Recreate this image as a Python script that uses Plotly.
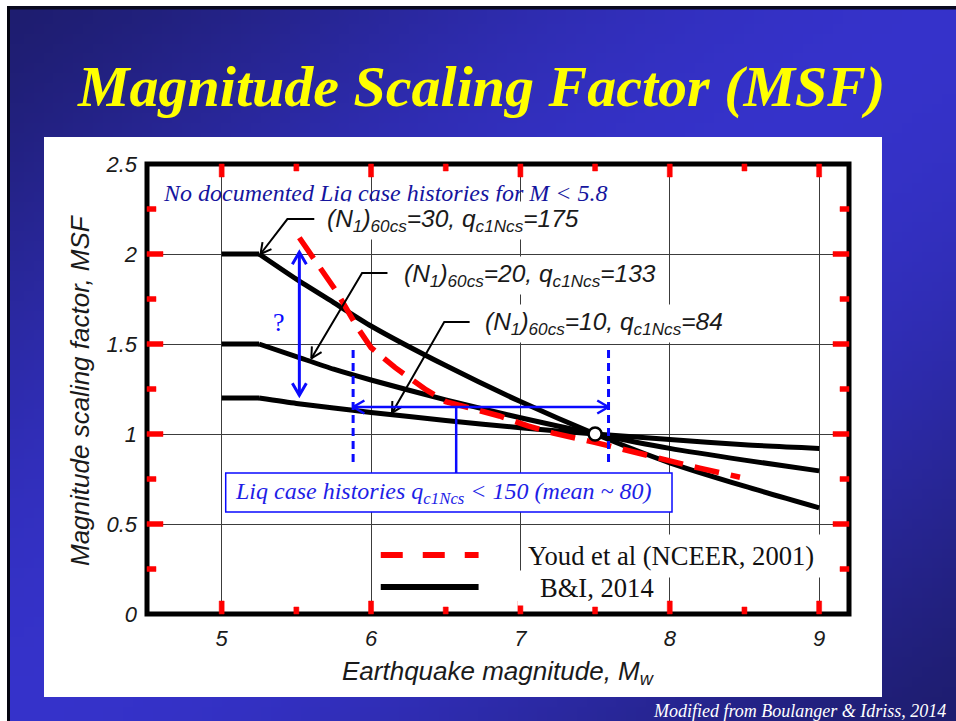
import base64
import math
import struct
import zlib

import plotly.graph_objects as go

# ---------------------------------------------------------------- data
magnitudes = [5.0, 5.25, 5.5, 5.75, 6.0, 6.5, 7.0, 7.5, 8.0, 8.5, 9.0]
msf_n30 = [2.00, 2.00, 1.86, 1.73, 1.60, 1.38, 1.18, 1.00, 0.84, 0.71, 0.59]
msf_n20 = [1.50, 1.50, 1.43, 1.36, 1.30, 1.19, 1.09, 1.00, 0.92, 0.855, 0.795]
msf_n10 = [1.20, 1.20, 1.17, 1.145, 1.12, 1.075, 1.035, 1.00, 0.97, 0.94, 0.92]

youd_m = [5.52, 5.77, 5.91, 6.0, 6.16, 6.37, 6.5, 6.65, 6.86, 7.05, 7.22, 7.49, 7.75, 8.0, 8.2, 8.47]
youd_msf = [2.09, 1.79, 1.59, 1.48, 1.37, 1.245, 1.18, 1.145, 1.10, 1.045, 1.005, 0.955, 0.90, 0.85, 0.81, 0.76]

reference_point = (7.5, 1.0)

x_ticks = [5, 6, 7, 8, 9]
x_ticktext = ["5", "6", "7", "8", "9"]
x_minor = [5.5, 6.5, 7.5, 8.5]
y_ticks = [0, 0.5, 1, 1.5, 2, 2.5]
y_ticktext = ["0", "0.5", "1", "1.5", "2", "2.5"]
y_minor = [0.25, 0.75, 1.25, 1.75, 2.25]

curve_labels = [
    "(N<sub>1</sub>)<sub>60cs</sub>=30, q<sub>c1Ncs</sub>=175",
    "(N<sub>1</sub>)<sub>60cs</sub>=20, q<sub>c1Ncs</sub>=133",
    "(N<sub>1</sub>)<sub>60cs</sub>=10, q<sub>c1Ncs</sub>=84",
]
# leader polylines (text end -> elbow -> tip on curve)
leaders = [
    [(5.62, 2.194), (5.44, 2.194), (5.26, 2.0)],
    [(6.11, 1.894), (5.94, 1.894), (5.60, 1.42)],
    [(6.66, 1.622), (6.49, 1.622), (6.14, 1.117)],
]

# range of documented case histories
gap_m = 5.52
gap_span = (1.215, 2.01)
hist_m_range = (5.88, 7.59)
hist_msf_band = (0.845, 1.47)
hist_arrow_msf = 1.15
hist_pointer_m = 6.57
hist_box_m = (5.027, 8.015)
hist_box_msf = (0.567, 0.783)

legend_m = [6.065, 6.72]
legend_red_msf = 0.328
legend_black_msf = 0.15

# ---------------------------------------------------------------- geometry
W, H = 956, 721
L, T, PW, PH = 147, 164, 702, 450
X_RANGE = [4.5, 9.2]
Y_RANGE = [0.0, 2.5]
XS = PW / (X_RANGE[1] - X_RANGE[0])
YS = PH / (Y_RANGE[1] - Y_RANGE[0])

SERIF = "Liberation Serif"
SANS = "Liberation Sans"
BLUE = "#0a0aff"
TICK_COLOR = "#ff0000"


def pxx(px):
    return (px - L) / PW


def pxy(py):
    return (T + PH - py) / PH


def xp(v):
    return (v - X_RANGE[0]) / (X_RANGE[1] - X_RANGE[0])


def yp(v):
    return (v - Y_RANGE[0]) / (Y_RANGE[1] - Y_RANGE[0])


def v_head(tip, frm, length=12.0, half_angle=28.0):
    ddx = (tip[0] - frm[0]) * XS
    ddy = (tip[1] - frm[1]) * YS
    n = math.hypot(ddx, ddy)
    bx, by = -ddx / n, -ddy / n
    arms = []
    for sgn in (1, -1):
        a = math.radians(half_angle) * sgn
        rx = bx * math.cos(a) - by * math.sin(a)
        ry = bx * math.sin(a) + by * math.cos(a)
        arms.append((tip[0] + rx * length / XS, tip[1] + ry * length / YS))
    return [arms[0][0], tip[0], arms[1][0]], [arms[0][1], tip[1], arms[1][1]]


def png_uri(w, h, fn):
    rows = []
    for y in range(h):
        row = bytearray([0])
        for x in range(w):
            row.extend(fn(x / (w - 1), y / (h - 1)))
        rows.append(bytes(row))
    raw = b"".join(rows)

    def chunk(tag, data):
        return (struct.pack(">I", len(data)) + tag + data
                + struct.pack(">I", zlib.crc32(tag + data) & 0xFFFFFFFF))

    png = (b"\x89PNG\r\n\x1a\n"
           + chunk(b"IHDR", struct.pack(">IIBBBBB", w, h, 8, 2, 0, 0, 0))
           + chunk(b"IDAT", zlib.compress(raw, 9))
           + chunk(b"IEND", b""))
    return "data:image/png;base64," + base64.b64encode(png).decode()


def slide_rgb(u, v):
    t = (u + v) / 2.0
    s = math.sin(math.pi * t) ** 1.3
    dark = (30, 29, 112)
    bright = (53, 50, 202)
    return tuple(int(round(d + (b - d) * s)) for d, b in zip(dark, bright))


fig = go.Figure()

# ---------------------------------------------------------------- curves
for vals in (msf_n30, msf_n20, msf_n10):
    fig.add_trace(go.Scatter(x=magnitudes[:2], y=vals[:2], mode="lines",
                             line=dict(color="black", width=5),
                             hoverinfo="skip", showlegend=False))
    fig.add_trace(go.Scatter(x=magnitudes[1:], y=vals[1:], mode="lines",
                             line=dict(color="black", width=5, shape="spline", smoothing=0.6),
                             hoverinfo="skip", showlegend=False))

fig.add_trace(go.Scatter(x=youd_m, y=youd_msf, mode="lines",
                         line=dict(color="#ff0000", width=5.5, dash="25px,12px"),
                         hoverinfo="skip", showlegend=False))

for pts in leaders:
    fig.add_trace(go.Scatter(x=[p[0] for p in pts], y=[p[1] for p in pts], mode="lines",
                             line=dict(color="black", width=2), hoverinfo="skip", showlegend=False))
    hx, hy = v_head(pts[-1], pts[-2])
    fig.add_trace(go.Scatter(x=hx, y=hy, mode="lines", line=dict(color="black", width=2),
                             hoverinfo="skip", showlegend=False))

fig.add_trace(go.Scatter(x=[gap_m, gap_m], y=list(gap_span), mode="lines",
                         line=dict(color=BLUE, width=3), hoverinfo="skip", showlegend=False))
for tip, frm in (((gap_m, gap_span[1]), (gap_m, gap_span[0])),
                 ((gap_m, gap_span[0]), (gap_m, gap_span[1]))):
    hx, hy = v_head(tip, frm, length=14, half_angle=30)
    fig.add_trace(go.Scatter(x=hx, y=hy, mode="lines", line=dict(color=BLUE, width=3),
                             hoverinfo="skip", showlegend=False))

for m in hist_m_range:
    fig.add_trace(go.Scatter(x=[m, m], y=list(hist_msf_band), mode="lines",
                             line=dict(color=BLUE, width=3, dash="8px,5px"),
                             hoverinfo="skip", showlegend=False))

fig.add_trace(go.Scatter(x=list(hist_m_range), y=[hist_arrow_msf] * 2, mode="lines",
                         line=dict(color=BLUE, width=2.5), hoverinfo="skip", showlegend=False))
for tip, frm in (((hist_m_range[0], hist_arrow_msf), (hist_m_range[1], hist_arrow_msf)),
                 ((hist_m_range[1], hist_arrow_msf), (hist_m_range[0], hist_arrow_msf))):
    hx, hy = v_head(tip, frm, length=13, half_angle=30)
    fig.add_trace(go.Scatter(x=hx, y=hy, mode="lines", line=dict(color=BLUE, width=2.5),
                             hoverinfo="skip", showlegend=False))

fig.add_trace(go.Scatter(x=[hist_pointer_m] * 2, y=[hist_arrow_msf, hist_box_msf[1]], mode="lines",
                         line=dict(color=BLUE, width=2.5), hoverinfo="skip", showlegend=False))

fig.add_trace(go.Scatter(x=[reference_point[0]], y=[reference_point[1]], mode="markers",
                         marker=dict(symbol="circle", size=13, color="white",
                                     line=dict(color="black", width=2.5)),
                         hoverinfo="skip", showlegend=False))

fig.add_trace(go.Scatter(x=legend_m, y=[legend_red_msf] * 2, mode="lines",
                         line=dict(color="#ff0000", width=6, dash="22px,20px"),
                         hoverinfo="skip", showlegend=False))
fig.add_trace(go.Scatter(x=legend_m, y=[legend_black_msf] * 2, mode="lines",
                         line=dict(color="black", width=6), hoverinfo="skip", showlegend=False))

# ---------------------------------------------------------------- frame ticks as one filled path
TW = 5.0
tick_path = []
hw = TW / 2 / PW
for xv, ln in [(v, 13) for v in x_ticks] + [(v, 7) for v in x_minor]:
    c = xp(xv)
    h = ln / PH
    tick_path.append(f"M{c - hw:.5f},0 L{c + hw:.5f},0 L{c + hw:.5f},{h:.5f} L{c - hw:.5f},{h:.5f} Z")
    tick_path.append(f"M{c - hw:.5f},1 L{c + hw:.5f},1 L{c + hw:.5f},{1 - h:.5f} L{c - hw:.5f},{1 - h:.5f} Z")
hh = TW / 2 / PH
for yv, ln in [(v, 16) for v in y_ticks[1:-1]] + [(v, 9) for v in y_minor]:
    c = yp(yv)
    w = ln / PW
    tick_path.append(f"M0,{c - hh:.5f} L{w:.5f},{c - hh:.5f} L{w:.5f},{c + hh:.5f} L0,{c + hh:.5f} Z")
    tick_path.append(f"M1,{c - hh:.5f} L{1 - w:.5f},{c - hh:.5f} L{1 - w:.5f},{c + hh:.5f} L1,{c + hh:.5f} Z")

# ---------------------------------------------------------------- shapes
shapes = [
    dict(type="rect", xref="paper", yref="paper", x0=pxx(7), x1=pxx(W + 2), y0=pxy(6), y1=pxy(9.5),
         fillcolor="#0a0a20", line=dict(width=0), layer="below"),
    dict(type="rect", xref="paper", yref="paper", x0=pxx(7), x1=pxx(10), y0=pxy(6), y1=pxy(H + 2),
         fillcolor="#050510", line=dict(width=0), layer="below"),
    dict(type="rect", xref="paper", yref="paper", x0=pxx(44), x1=pxx(882), y0=pxy(137), y1=pxy(697),
         fillcolor="white", line=dict(width=0), layer="below"),
    dict(type="rect", xref="x", yref="y", x0=hist_box_m[0], x1=hist_box_m[1],
         y0=hist_box_msf[0], y1=hist_box_msf[1], fillcolor="white",
         line=dict(color=BLUE, width=1.5), layer="above"),
    dict(type="rect", xref="paper", yref="paper", x0=0, x1=1, y0=0, y1=1,
         line=dict(color="black", width=5), fillcolor="rgba(0,0,0,0)", layer="above"),
    dict(type="path", xref="paper", yref="paper", path=" ".join(tick_path),
         fillcolor=TICK_COLOR, line=dict(color=TICK_COLOR, width=0.5), layer="above"),
]

# ---------------------------------------------------------------- text
ann = []


def note(text, px, py, size, family=SANS, color="black", xanchor="left", style="italic",
         weight="normal", bg=None, angle=0, pad=1):
    a = dict(text=text, xref="paper", yref="paper", x=pxx(px), y=pxy(py), xanchor=xanchor,
             yanchor="middle", showarrow=False, textangle=angle, borderpad=pad,
             font=dict(family=family, size=size, color=color, style=style, weight=weight))
    if bg:
        a["bgcolor"] = bg
    ann.append(a)


note("Magnitude Scaling Factor (MSF)", 481, 86, 58, family=SERIF, color="#ffff00",
     xanchor="center", weight="bold")
note("Modified from Boulanger &amp; Idriss, 2014", 948, 711, 18, family=SERIF, color="white",
     xanchor="right")

note("No documented Liq case histories for M &lt; 5.8", 161, 193, 24, family=SERIF, color="#15159e")
note(curve_labels[0], 323, 220, 24.5, color="#1a1a1a", bg="white", pad=3)
note(curve_labels[1], 400, 275, 24.5, color="#1a1a1a", bg="white", pad=3)
note(curve_labels[2], 481, 323, 24.5, color="#1a1a1a", bg="white", pad=3)
note("?", 279, 322, 26, family=SERIF, color=BLUE, xanchor="center", style="normal")
note("Liq case histories q<sub>c1Ncs</sub> &lt; 150 (mean ~ 80)", 233, 493, 24, family=SERIF,
     color="#1e1ee6")

note("Youd et al (NCEER, 2001)", 521, 556, 26.6, family=SERIF, color="#111111", style="normal",
     bg="white", pad=6)
note("&nbsp;&nbsp;&nbsp;B&amp;I, 2014", 517, 588, 26.6, family=SERIF, color="#111111",
     style="normal", bg="white", pad=2)

note("Magnitude scaling factor, MSF", 80, 390, 26, color="#1a1a1a", xanchor="center", angle=-90)
note("Earthquake magnitude, M<sub>w</sub>", 498, 672, 26, color="#1a1a1a", xanchor="center")

# ---------------------------------------------------------------- layout
axis_common = dict(
    ticks="", showline=False,
    showgrid=True, gridcolor="#3c3c3c", gridwidth=1, zeroline=False,
    tickfont=dict(family=SANS, size=22, color="#1a1a1a", style="italic"),
    fixedrange=True,
)

fig.update_layout(
    width=W, height=H,
    margin=dict(l=L, r=W - L - PW, t=T, b=H - T - PH, pad=0),
    paper_bgcolor="white", plot_bgcolor="white",
    showlegend=False,
    xaxis=dict(range=X_RANGE, tickvals=x_ticks, ticktext=x_ticktext,
               ticklabelstandoff=9, **axis_common),
    yaxis=dict(range=Y_RANGE, tickvals=y_ticks, ticktext=y_ticktext,
               ticklabelstandoff=9, **axis_common),
    shapes=shapes,
    annotations=ann,
    images=[dict(source=png_uri(96, 72, slide_rgb), xref="paper", yref="paper",
                 x=pxx(9), y=pxy(9), sizex=(W - 9) / PW, sizey=(H - 9) / PH,
                 xanchor="left", yanchor="top", sizing="stretch", layer="below")],
)

fig.write_html("out.html")
